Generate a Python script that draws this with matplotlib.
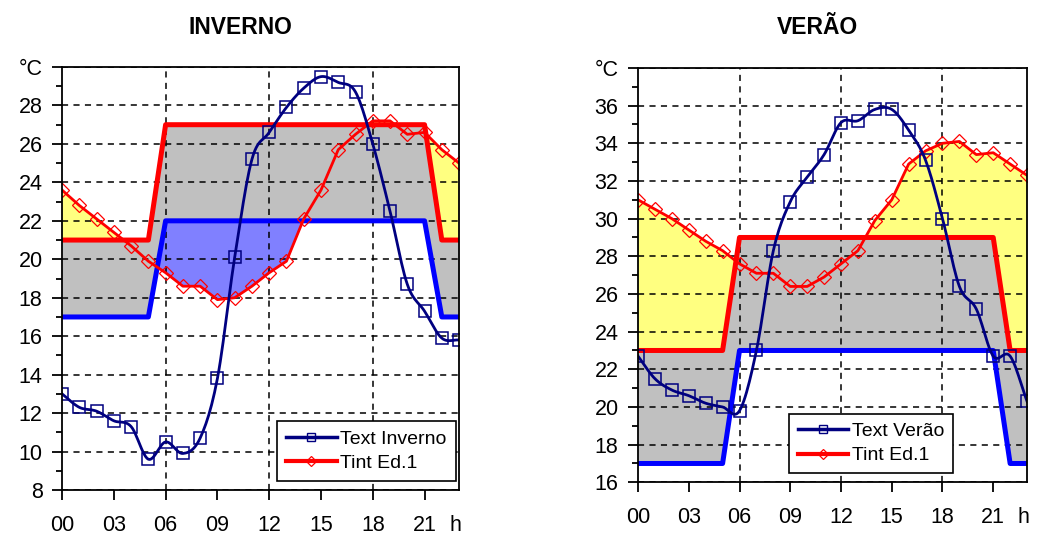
import numpy as np
import matplotlib
matplotlib.use("Agg")
import matplotlib.pyplot as plt
import matplotlib.transforms as mtransforms
from matplotlib.lines import Line2D
from matplotlib.ticker import MultipleLocator

plt.rcParams['font.family'] = ['Liberation Sans', 'DejaVu Sans']

hours = list(range(24))
hour_labels = ["00", "03", "06", "09", "12", "15", "18", "21"]

# Winter day
text_inverno = [13.0, 12.3, 12.1, 11.6, 11.3, 9.6, 10.5, 9.9, 10.7, 13.8, 20.1, 25.2,
                26.6, 27.9, 28.9, 29.5, 29.2, 28.7, 26.0, 22.5, 18.7, 17.3, 15.9, 15.8]
tint_inverno = [23.6, 22.8, 22.1, 21.4, 20.7, 19.9, 19.3, 18.6, 18.6, 17.9, 18.0, 18.6,
                19.3, 19.9, 22.1, 23.6, 25.7, 26.5, 27.2, 27.2, 26.5, 26.6, 25.7, 25.0]
sp_max_inverno = [21, 21, 21, 21, 21, 21, 27, 27, 27, 27, 27, 27,
                  27, 27, 27, 27, 27, 27, 27, 27, 27, 27, 21, 21]
sp_min_inverno = [17, 17, 17, 17, 17, 17, 22, 22, 22, 22, 22, 22,
                  22, 22, 22, 22, 22, 22, 22, 22, 22, 22, 17, 17]

# Summer day
text_verao = [22.7, 21.5, 20.9, 20.6, 20.2, 20.0, 19.8, 23.0, 28.3, 30.9, 32.2, 33.4,
              35.1, 35.2, 35.8, 35.8, 34.7, 33.1, 30.0, 26.4, 25.2, 22.7, 22.7, 20.3]
tint_verao = [31.0, 30.5, 30.0, 29.4, 28.8, 28.3, 27.6, 27.1, 27.1, 26.4, 26.4, 26.9,
              27.6, 28.3, 29.9, 31.0, 32.9, 33.6, 34.0, 34.1, 33.4, 33.5, 32.9, 32.3]
sp_max_verao = [23, 23, 23, 23, 23, 23, 29, 29, 29, 29, 29, 29,
                29, 29, 29, 29, 29, 29, 29, 29, 29, 29, 23, 23]
sp_min_verao = [17, 17, 17, 17, 17, 17, 23, 23, 23, 23, 23, 23,
                23, 23, 23, 23, 23, 23, 23, 23, 23, 23, 17, 17]

NAVY = "#000080"
RED = "#FF0000"
BLUE = "#0000FF"
GRAY = "#C0C0C0"
YELLOW = "#FFFF80"
LILAC = "#8080FF"

TICK_FS = 15.5
LEGEND_FS = 14
X_PAD = 11


def smooth(x, y, n=12):
    """Catmull-Rom curve through the points, like a spreadsheet smoothed line."""
    x = np.asarray(x, float)
    y = np.asarray(y, float)
    px = np.concatenate([[2 * x[0] - x[1]], x, [2 * x[-1] - x[-2]]])
    py = np.concatenate([[2 * y[0] - y[1]], y, [2 * y[-1] - y[-2]]])
    xs, ys = [], []
    t = np.linspace(0, 1, n, endpoint=False)
    for i in range(1, len(px) - 2):
        for p, out in ((px, xs), (py, ys)):
            p0, p1, p2, p3 = p[i - 1], p[i], p[i + 1], p[i + 2]
            out.extend(0.5 * ((2 * p1) + (-p0 + p2) * t
                              + (2 * p0 - 5 * p1 + 4 * p2 - p3) * t ** 2
                              + (-p0 + 3 * p1 - 3 * p2 + p3) * t ** 3))
    xs.append(x[-1])
    ys.append(y[-1])
    return np.array(xs), np.array(ys)


def panel(fig, ax, text, tint, sp_max, sp_min, ymin, ymax):
    x = np.array(hours, float)
    text = np.array(text)
    tint = np.array(tint)
    hi = np.array(sp_max, float)
    lo = np.array(sp_min, float)

    # comfort band, overheating and underheating areas
    ax.fill_between(x, lo, hi, color=GRAY, lw=0, zorder=1)
    ax.fill_between(x, hi, tint, where=tint > hi, interpolate=True,
                    color=YELLOW, lw=0, zorder=1)
    ax.fill_between(x, tint, lo, where=tint < lo, interpolate=True,
                    color=LILAC, lw=0, zorder=1)

    ax.plot(x, hi, color=RED, lw=3.6, zorder=3, solid_joinstyle='round')
    ax.plot(x, lo, color=BLUE, lw=3.6, zorder=3, solid_joinstyle='round')

    ax.plot(x, tint, color=RED, lw=2.0, zorder=4)
    ax.plot(x, tint, ls='none', marker='D', ms=7.5, mfc='none', mec=RED,
            mew=0.9, zorder=4)

    sx, sy = smooth(x, text)
    ax.plot(sx, sy, color=NAVY, lw=2.0, zorder=5)
    ax.plot(x, text, ls='none', marker='s', ms=8.5, mfc='none', mec=NAVY,
            mew=1.1, zorder=5)

    ax.set_xlim(0, 23)
    ax.set_ylim(ymin, ymax)

    ax.set_xticks([0, 3, 6, 9, 12, 15, 18, 21])
    ax.set_xticklabels(hour_labels)
    ax.tick_params(axis='x', which='major', direction='out', length=7,
                   width=1.3, pad=X_PAD, labelsize=TICK_FS)

    yt = list(range(ymin, ymax + 1, 2))
    ax.set_yticks(yt)
    ax.set_yticklabels([str(v) for v in yt[:-1]] + ["°C"])
    ax.yaxis.set_minor_locator(MultipleLocator(1))
    ax.tick_params(axis='y', which='major', direction='out', length=7,
                   width=1.3, pad=7, labelsize=TICK_FS)
    ax.tick_params(axis='y', which='minor', direction='out', length=4, width=1.3)

    ax.set_axisbelow('line')
    ax.grid(axis='y', which='major', color='black', ls=(0, (4, 3.5)), lw=1.1)
    for v in (6, 12, 18):
        ax.axvline(v, color='black', ls=(0, (4, 3.5)), lw=1.1, zorder=1.5)
    for s in ax.spines.values():
        s.set_linewidth(1.3)
        s.set_zorder(6)

    # unit label in the tick-label row
    off = mtransforms.ScaledTranslation(0, -(7 + X_PAD) / 72, fig.dpi_scale_trans)
    ax.text(22.8, 0, "h", transform=ax.get_xaxis_transform() + off,
            ha='center', va='top', fontsize=TICK_FS)

    handles = [
        Line2D([], [], color=NAVY, lw=2.5, marker='s', ms=6, mfc='none',
               mec=NAVY, mew=1.0),
        Line2D([], [], color=RED, lw=3.0, marker='D', ms=5.5, mfc='none',
               mec=RED, mew=0.9),
    ]
    return handles


def add_legend(ax, handles, labels, anchor):
    leg = ax.legend(handles, labels, loc='lower left', bbox_to_anchor=anchor,
                    borderaxespad=0, fontsize=LEGEND_FS, handlelength=2.6,
                    handletextpad=0.2, labelspacing=0.35, borderpad=0.45,
                    fancybox=False, framealpha=1, edgecolor='black')
    leg.get_frame().set_linewidth(1.2)
    leg.set_zorder(10)
    return leg


fig = plt.figure(figsize=(10.41, 5.34), dpi=100)

ax1 = fig.add_axes([0.0596, 0.0824, 0.3814, 0.7921])
h1 = panel(fig, ax1, text_inverno, tint_inverno, sp_max_inverno, sp_min_inverno,
           8, 30)
add_legend(ax1, h1, ["Text Inverno", "Tint Ed.1"], (0.542, 0.022))

ax2 = fig.add_axes([0.6129, 0.0968, 0.3737, 0.7759])
h2 = panel(fig, ax2, text_verao, tint_verao, sp_max_verao, sp_min_verao,
           16, 38)
add_legend(ax2, h2, ["Text Verão", "Tint Ed.1"], (0.388, 0.022))

fig.text(240 / 1041, 1 - 27 / 534, "INVERNO", ha='center', va='center',
         fontsize=16.5, fontweight='bold')
fig.text(817 / 1041, 1 - 27 / 534, "VERÃO", ha='center', va='center',
         fontsize=16.5, fontweight='bold')

fig.savefig("out.png", dpi=100, facecolor='white')
